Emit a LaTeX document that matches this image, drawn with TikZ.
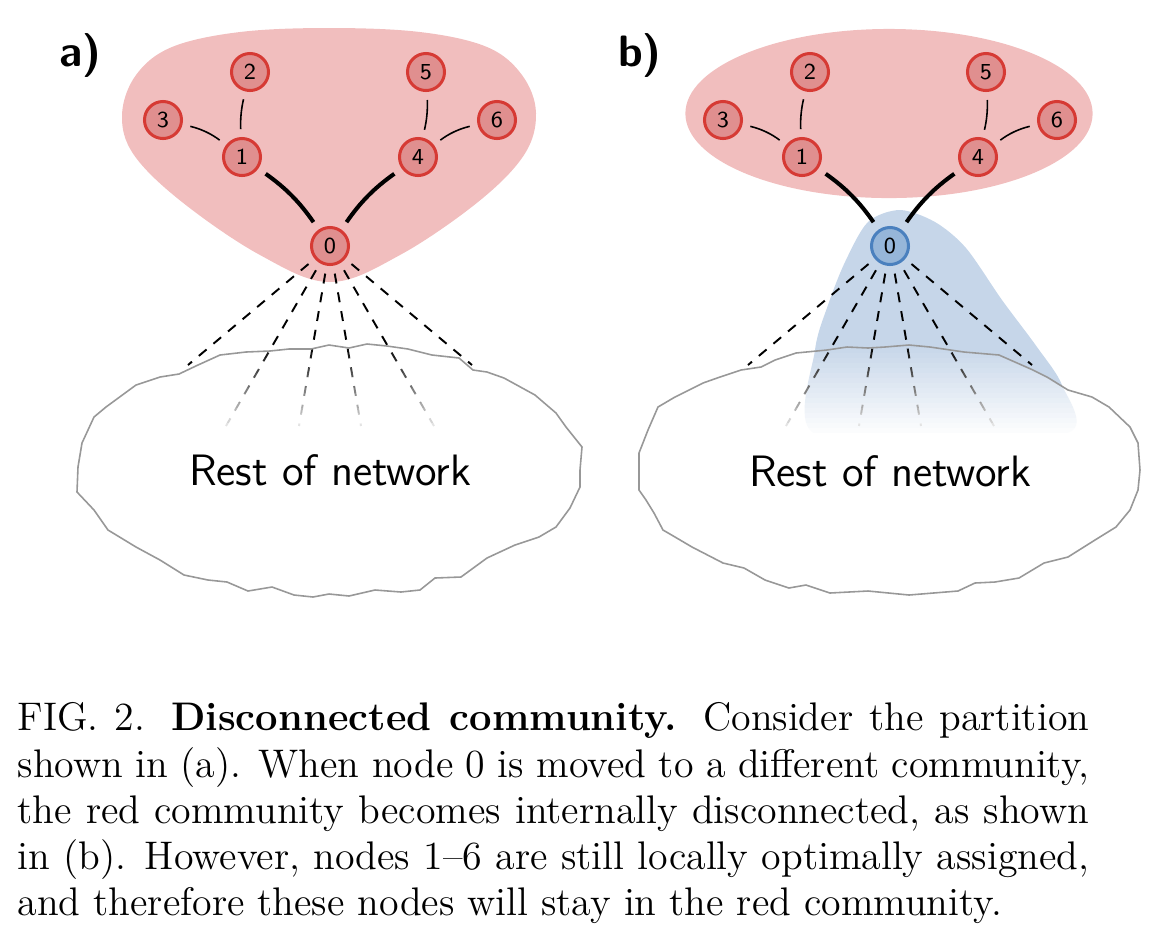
\documentclass[tikz,border=0pt]{standalone}
\usepackage{tikz}
\definecolor{redblob}{RGB}{241,190,190}
\definecolor{redfill}{RGB}{224,143,143}
\definecolor{redline}{RGB}{214,58,52}
\definecolor{blueblob}{RGB}{198,214,233}
\definecolor{bluefill}{RGB}{150,182,217}
\definecolor{blueline}{RGB}{74,128,190}
\definecolor{rimgray}{RGB}{152,152,152}
\newcommand{\cloudA}{plot coordinates {(77,492) (78,467) (82,443) (94,417) (106,407) (136,385) (160,377) (179,374) (198,365) (220,355) (246,352) (270,351) (289,349) (311,349) (329,345) (349,348) (367,344) (387,346) (408,349) (432,355) (459,358) (473,370) (487,372) (504,378) (535,395) (556,413) (566,427) (582,447) (580,470) (580,487) (570,508) (556,527) (539,537) (515,545) (487,558) (461,577) (435,578) (420,590) (401,592) (375,590) (349,596) (329,594) (313,597) (294,595) (272,587) (248,591) (227,582) (208,580) (184,575) (160,560) (136,547) (108,530) (94,510)} -- cycle}
\newcommand{\cloudB}{plot coordinates {(639,453) (639,490) (646,500) (654,513) (663,530) (675,537) (692,547) (723,563) (744,568) (765,580) (789,588) (806,585) (830,593) (868,591) (909,595) (958,591) (975,583) (995,582) (1019,578) (1044,563) (1068,557) (1095,540) (1116,527) (1130,510) (1138,490) (1140,470) (1138,443) (1130,427) (1109,407) (1092,397) (1068,390) (1047,377) (1033,370) (999,355) (964,352) (930,347) (909,345) (885,347) (868,348) (847,347) (827,350) (796,353) (775,360) (761,367) (741,370) (720,377) (703,383) (675,397) (658,407) (648,430)} -- cycle}

\begin{document}
\begin{tikzpicture}[x=0.01cm,y=-0.01cm,
  vertex/.style={circle,minimum size=0.37cm,inner sep=0pt,line width=0.03cm,font=\fontsize{6.5}{7}\sffamily},
  redv/.style={vertex,draw=redline,fill=redfill},
  bluev/.style={vertex,draw=blueline,fill=bluefill},
  link/.style={line width=0.45pt,shorten <=0.08cm,shorten >=0.08cm},
  bridge/.style={line width=1.15pt,shorten <=0.09cm,shorten >=0.09cm},
  spoke/.style={line width=0.55pt,dash pattern=on 0.1cm off 0.09cm,shorten <=0.08cm},
  rim/.style={draw=rimgray,line width=0.45pt},
  panel/.style={font=\fontsize{12.5}{14}\sffamily\bfseries}]
\useasboundingbox (0,0) rectangle (1166,938);
\fill[redblob] plot[smooth cycle,tension=0.6] coordinates {(122,115) (136,75) (172,47) (240,32) (329,28) (420,32) (487,47) (522,75) (536,113) (524,155) (478,202) (400,255) (330,282) (260,255) (182,202) (134,155)};
\fill[redblob] (889,113.5) ellipse [x radius=2.035cm,y radius=0.845cm];
\fill[blueblob] plot[smooth cycle] coordinates {(900,210) (935,222) (966,248) (1002,300) (1037,347) (1062,385) (1070,432) (940,445) (812,432) (815,350) (828,305) (845,262) (868,222)};
\node[panel] (laba) at (80,55) {a)};
\node[panel] (labb) at (640,55) {b)};
\node[redv] (a0) at (330,246) {0};
\node[redv] (a1) at (242,157) {1};
\node[redv] (a2) at (250,72) {2};
\node[redv] (a3) at (163,120) {3};
\node[redv] (a4) at (418,157) {4};
\node[redv] (a5) at (426,72) {5};
\node[redv] (a6) at (497,120) {6};
\node[bluev] (b0) at (890,246) {0};
\node[redv] (b1) at (802,157) {1};
\node[redv] (b2) at (810,72) {2};
\node[redv] (b3) at (723,120) {3};
\node[redv] (b4) at (978,157) {4};
\node[redv] (b5) at (986,72) {5};
\node[redv] (b6) at (1057,120) {6};
\foreach \p in {a,b} {
  \draw[link] (\p3) to[bend left=12] (\p1);
  \draw[link] (\p2) to[bend right=8] (\p1);
  \draw[link] (\p5) to[bend left=8] (\p4);
  \draw[link] (\p6) to[bend right=12] (\p4);
  \draw[bridge] (\p1) to[bend left=10] (\p0);
  \draw[bridge] (\p4) to[bend right=10] (\p0);
  \foreach \dx/\dy [count=\i] in {-142/119,142/119,-104/180,-31/180,31/180,104/180} {
    \path (\p0) ++(\dx,\dy) coordinate (\p e\i);
    \draw[spoke] (\p0) -- (\p e\i);
  }
}
\foreach \c in {\cloudA,\cloudB} {
  \begin{scope}
    \clip \c;
    \foreach \k [evaluate=\k as \op using \k/18] in {1,...,18}
      \fill[white,opacity=\op] (0,343+5*\k) rectangle (1166,348+5*\k);
    \fill[white] (0,433) rectangle (1166,620);
  \end{scope}
  \draw[rim] \c;
}
\node[font=\fontsize{12.5}{14}\sffamily] (resta) at (330,470) {Rest of network};
\node[font=\fontsize{12.5}{14}\sffamily] (restb) at (890,471) {Rest of network};
\node[anchor=north west,inner sep=0pt,text width=10.71cm,align=justify,font=\fontsize{11.35}{13.16}\selectfont] (caption) at (17,702)
  {\noindent FIG. 2. \textbf{Disconnected community.} Consider the partition\linebreak
  shown in (a). When node 0 is moved to a different community,\linebreak
  the red community becomes internally disconnected, as shown\linebreak
  in (b). However, nodes 1--6 are still locally optimally assigned,\linebreak
  and therefore these nodes will stay in the red community.};
\end{tikzpicture}
\end{document}
